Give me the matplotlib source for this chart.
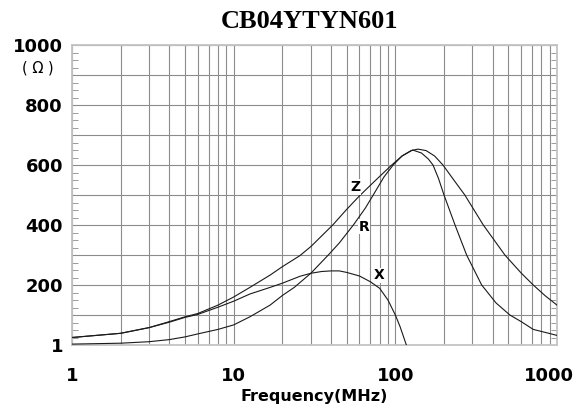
import matplotlib

matplotlib.use("Agg")
import matplotlib.pyplot as plt
import matplotlib.transforms as mtransforms
from matplotlib.ticker import FixedLocator, MultipleLocator, NullFormatter

TITLE = "CB04YTYN601"

# impedance |Z| (ohm) vs frequency (MHz)
z_freq = [1, 2, 3, 4, 5, 6, 8, 10, 12.6, 16.8, 20, 25.7, 30, 41, 50, 60, 70, 80,
          95, 110, 125, 138, 155, 175, 197, 230, 269, 350, 476, 600, 713, 850, 1000]
z_vals = [25, 39, 58, 78, 94, 105, 133, 160, 192, 233, 261, 298, 328, 400, 452, 497,
          532, 562, 600, 630, 648, 653, 648, 630, 600, 550, 500, 400, 300, 240, 200, 163, 133]

# resistance R
r_freq = [1, 2, 3, 4, 5, 6, 8, 10, 12.6, 16.8, 20, 23.7, 30, 38.5, 45, 55, 65, 73,
          85, 97, 110, 128, 145, 160, 171, 185, 200, 234, 276, 342, 420, 511, 600,
          713, 860, 1000]
r_vals = [3, 6, 11, 18, 27, 37, 52, 67, 94, 133, 165, 192, 239, 300, 340, 400, 455,
          500, 560, 600, 630, 650, 640, 620, 600, 555, 500, 400, 300, 200, 140, 100,
          78, 52, 41, 32]

# reactance X
x_freq = [1, 2, 3, 4, 5, 6, 8, 10, 12.6, 16.8, 20, 25.7, 30, 35, 40, 45, 50, 60,
          70, 80, 90, 100, 107, 117]
x_vals = [25, 39, 58, 76, 92, 102, 126, 146, 170, 192, 206, 229, 239, 245, 247, 247,
          242, 230, 211, 189, 150, 100, 61, 0]

curve_labels = [("Z", 56.3, 527), ("R", 63.9, 394), ("X", 79.2, 232)]

x_ticks = [1, 10, 100, 1000]
y_labels = {0: "1", 200: "200", 400: "400", 600: "600", 800: "800", 1000: "1000"}

GRID = "#8c8c8c"
EDGE = "#c4c4c4"


def draw() -> None:
    fig = plt.figure(figsize=(5.77, 4.08), dpi=100)
    ax = fig.add_axes([72 / 577, 63 / 408, 485 / 577, 300 / 408])

    ax.set_xscale("log")
    ax.set_xlim(1, 1000)
    ax.set_ylim(0, 1000)

    for freq, vals in ((z_freq, z_vals), (r_freq, r_vals), (x_freq, x_vals)):
        ax.plot(freq, vals, color="#1a1a1a", lw=0.8, zorder=3)

    for name, fx, fy in curve_labels:
        ax.text(fx, fy, name, fontsize=10, fontweight="bold", ha="center",
                va="center", zorder=4,
                bbox=dict(facecolor="white", edgecolor="none", pad=0.5))

    # x axis: decades labelled, every minor decade line drawn
    ax.xaxis.set_major_locator(FixedLocator(x_ticks))
    ax.set_xticklabels([str(t) for t in x_ticks])
    minors = [m * d for d in (1, 10, 100) for m in range(2, 10)]
    ax.xaxis.set_minor_locator(FixedLocator(minors))
    ax.xaxis.set_minor_formatter(NullFormatter())
    ax.tick_params(axis="x", which="both", length=0, pad=16)
    ax.tick_params(axis="x", labelsize=13)

    # y axis
    ax.yaxis.set_major_locator(MultipleLocator(100))
    ax.set_yticklabels([y_labels.get(int(round(v)), "") for v in ax.get_yticks()])
    ax.yaxis.set_minor_locator(MultipleLocator(25))
    ax.tick_params(axis="y", which="major", length=0, pad=6.5, labelsize=13)
    ax.tick_params(axis="y", which="minor", direction="in", length=4,
                   color=GRID, left=True, right=True)

    for lab in ax.get_xticklabels() + ax.get_yticklabels():
        lab.set_fontweight("bold")

    last = ax.get_xticklabels()[-1]
    shift = mtransforms.ScaledTranslation(-8 / 100, 0, fig.dpi_scale_trans)
    last.set_transform(last.get_transform() + shift)

    ax.grid(True, which="major", color=GRID, lw=0.8)
    ax.grid(True, which="minor", axis="x", color=GRID, lw=0.8)
    ax.set_axisbelow(True)

    for spine in ax.spines.values():
        spine.set_color(EDGE)
        spine.set_linewidth(1.3)

    ax.set_xlabel("Frequency(MHz)", fontsize=11.5, fontweight="bold")
    ax.xaxis.set_label_coords(0.5, -0.145)
    ax.xaxis.label.set_va("top")

    fig.text(38 / 577, 1 - 68 / 408, "( Ω )", fontsize=10.5, ha="center", va="center")
    fig.text(310 / 577, 1 - 22 / 408, TITLE, fontsize=19, fontweight="bold",
             family="Liberation Serif", ha="center", va="center")

    fig.savefig("out.png", dpi=100)


if __name__ == "__main__":
    draw()
